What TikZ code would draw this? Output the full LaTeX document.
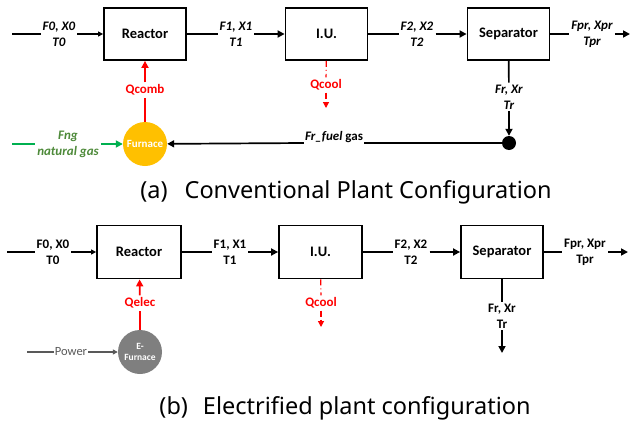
\documentclass[tikz,border=0pt]{standalone}
\usepackage{fontspec}
\setmainfont{Carlito}
\newfontfamily\capfont{Noto Sans}
\usetikzlibrary{arrows.meta}
\definecolor{furn}{HTML}{FFC000}
\definecolor{ngline}{HTML}{00B050}
\definecolor{ngtext}{HTML}{4E8A3A}
\definecolor{efurn}{HTML}{7F7F7F}
\definecolor{pwr}{HTML}{595959}
\begin{document}
\begin{tikzpicture}[x=1pt,y=-1pt,
  box/.style={draw,line width=1.8pt,minimum width=82pt,minimum height=52pt,inner sep=0pt,font=\fontsize{14.5}{16}\selectfont\bfseries},
  lbl/.style={font=\fontsize{13}{16}\selectfont\bfseries\itshape,align=center,inner sep=2pt},
  lblb/.style={font=\fontsize{13}{16}\selectfont\bfseries,align=center,inner sep=2pt},
  flow/.style={line width=1.7pt},
  arr/.style={flow,-{Triangle[length=7pt,width=7pt]}},
  sarr/.style={flow,-{Triangle[length=5pt,width=5pt]}},
  heat/.style={line width=1.7pt,red},
  cool/.style={line width=1.2pt,red,dash pattern=on 6pt off 3pt on 1pt off 3pt},
  caption/.style={font=\capfont\fontsize{23.5}{28}\selectfont,inner sep=0pt}]
\useasboundingbox (0,0) rectangle (630,426);

% ---------- (a) ----------
\node[box] (ra) at (145,34) {Reactor};
\node[box] (iua) at (326.5,34) {I.U.};
\node[box] (sa) at (508.5,34) {Separator};
\coordinate (ina) at (12,34);
\coordinate (outa) at (630,34);
\node[lbl] (l0a) at (59,34) {F0, X0\\T0};
\node[lbl] (l1a) at (236,34) {F1, X1\\T1};
\node[lbl] (l2a) at (417,34) {F2, X2\\T2};
\node[lbl] (lpa) at (592,34) {Fpr, Xpr\\Tpr};
\draw[flow] (ina) -- (l0a);
\draw[sarr] (l0a) -- (ra);
\draw[flow] (ra) -- (l1a);
\draw[arr] (l1a) -- (iua);
\draw[flow] (iua) -- (l2a);
\draw[arr] (l2a) -- (sa);
\draw[flow] (sa) -- (lpa);
\draw[arr] (lpa) -- (outa);

\node[lbl] (lra) at (509,97) {Fr, Xr\\Tr};
\node[circle,fill=black,minimum size=14pt,inner sep=0pt] (dot) at (509,143) {};
\draw[flow] (sa) -- (lra);
\draw[arr] (lra) -- (dot);

\node[circle,fill=furn,minimum size=44pt,inner sep=0pt,text=white,font=\fontsize{11}{12}\selectfont\bfseries] (fa) at (145,144) {Furnace};
\node[lbl,inner sep=1pt] (fuel) at (334,137) {Fr\_fuel \textup{gas}};
\draw[flow] (dot) -- (fuel.east |- dot);
\draw[arr] (fuel.west |- dot) -- (fa);

\node[lblb,text=red] (qcomb) at (145,90) {Qcomb};
\draw[heat] (fa) -- (qcomb);
\draw[heat,-{Triangle[length=7pt,width=7pt]}] (qcomb) -- (ra);

\coordinate (nga) at (12,144);
\node[lbl,text=ngtext] (ng) at (68,144) {Fng\\natural gas};
\draw[flow,ngline] (nga) -- (ng);
\draw[arr,ngline] (ng) -- (fa);

\node[lblb,text=red] (qca) at (326,85) {Qcool};
\coordinate (qcae) at (326,108);
\draw[cool] (iua) -- (qca);
\draw[cool,-{Triangle[length=6pt,width=6pt]}] (qca) -- (qcae);

\node[caption] (capa) at (346,192) {(a)\hspace{17pt}Conventional Plant Configuration};

% ---------- (b) ----------
\node[box,minimum width=84pt,minimum height=53pt] (rb) at (139,252) {Reactor};
\node[box,minimum width=83pt,minimum height=53pt] (iub) at (320.5,252) {I.U.};
\node[box,minimum width=82pt,minimum height=53pt] (sb) at (502,252) {Separator};
\coordinate (inb) at (7,252);
\coordinate (outb) at (628,252);
\node[lblb] (l0b) at (53,252) {F0, X0\\T0};
\node[lblb] (l1b) at (230,252) {F1, X1\\T1};
\node[lblb] (l2b) at (411,252) {F2, X2\\T2};
\node[lblb] (lpb) at (585,252) {Fpr, Xpr\\Tpr};
\draw[flow] (inb) -- (l0b);
\draw[sarr] (l0b) -- (rb);
\draw[flow] (rb) -- (l1b);
\draw[arr] (l1b) -- (iub);
\draw[flow] (iub) -- (l2b);
\draw[arr] (l2b) -- (sb);
\draw[flow] (sb) -- (lpb);
\draw[arr] (lpb) -- (outb);

\node[lblb] (lrb) at (502,316) {Fr, Xr\\Tr};
\coordinate (rbe) at (502,353);
\draw[flow] (sb) -- (lrb);
\draw[arr] (lrb) -- (rbe);

\node[circle,fill=efurn,minimum size=44pt,inner sep=0pt,text=white,align=center,font=\fontsize{9.5}{11}\selectfont\bfseries] (fb) at (140,352) {E-\\Furnace};
\node[lblb,text=red] (qelec) at (140,303) {Qelec};
\draw[heat] (fb) -- (qelec);
\draw[heat,-{Triangle[length=7pt,width=7pt]}] (qelec) -- (rb);

\coordinate (pwb) at (27,352);
\node[font=\fontsize{12.5}{14}\selectfont,text=pwr,inner sep=1pt] (pw) at (71,352) {Power};
\draw[line width=1.2pt,pwr] (pwb) -- (pw);
\draw[line width=1.2pt,pwr,-{Triangle[length=5pt,width=5pt]}] (pw) -- (fb);

\node[lblb,text=red] (qcb) at (321,303) {Qcool};
\coordinate (qcbe) at (321,327);
\draw[cool] (iub) -- (qcb);
\draw[cool,-{Triangle[length=6pt,width=6pt]}] (qcb) -- (qcbe);

\node[caption] (capb) at (345,408) {(b)\hspace{15pt}Electrified plant configuration};
\end{tikzpicture}
\end{document}
